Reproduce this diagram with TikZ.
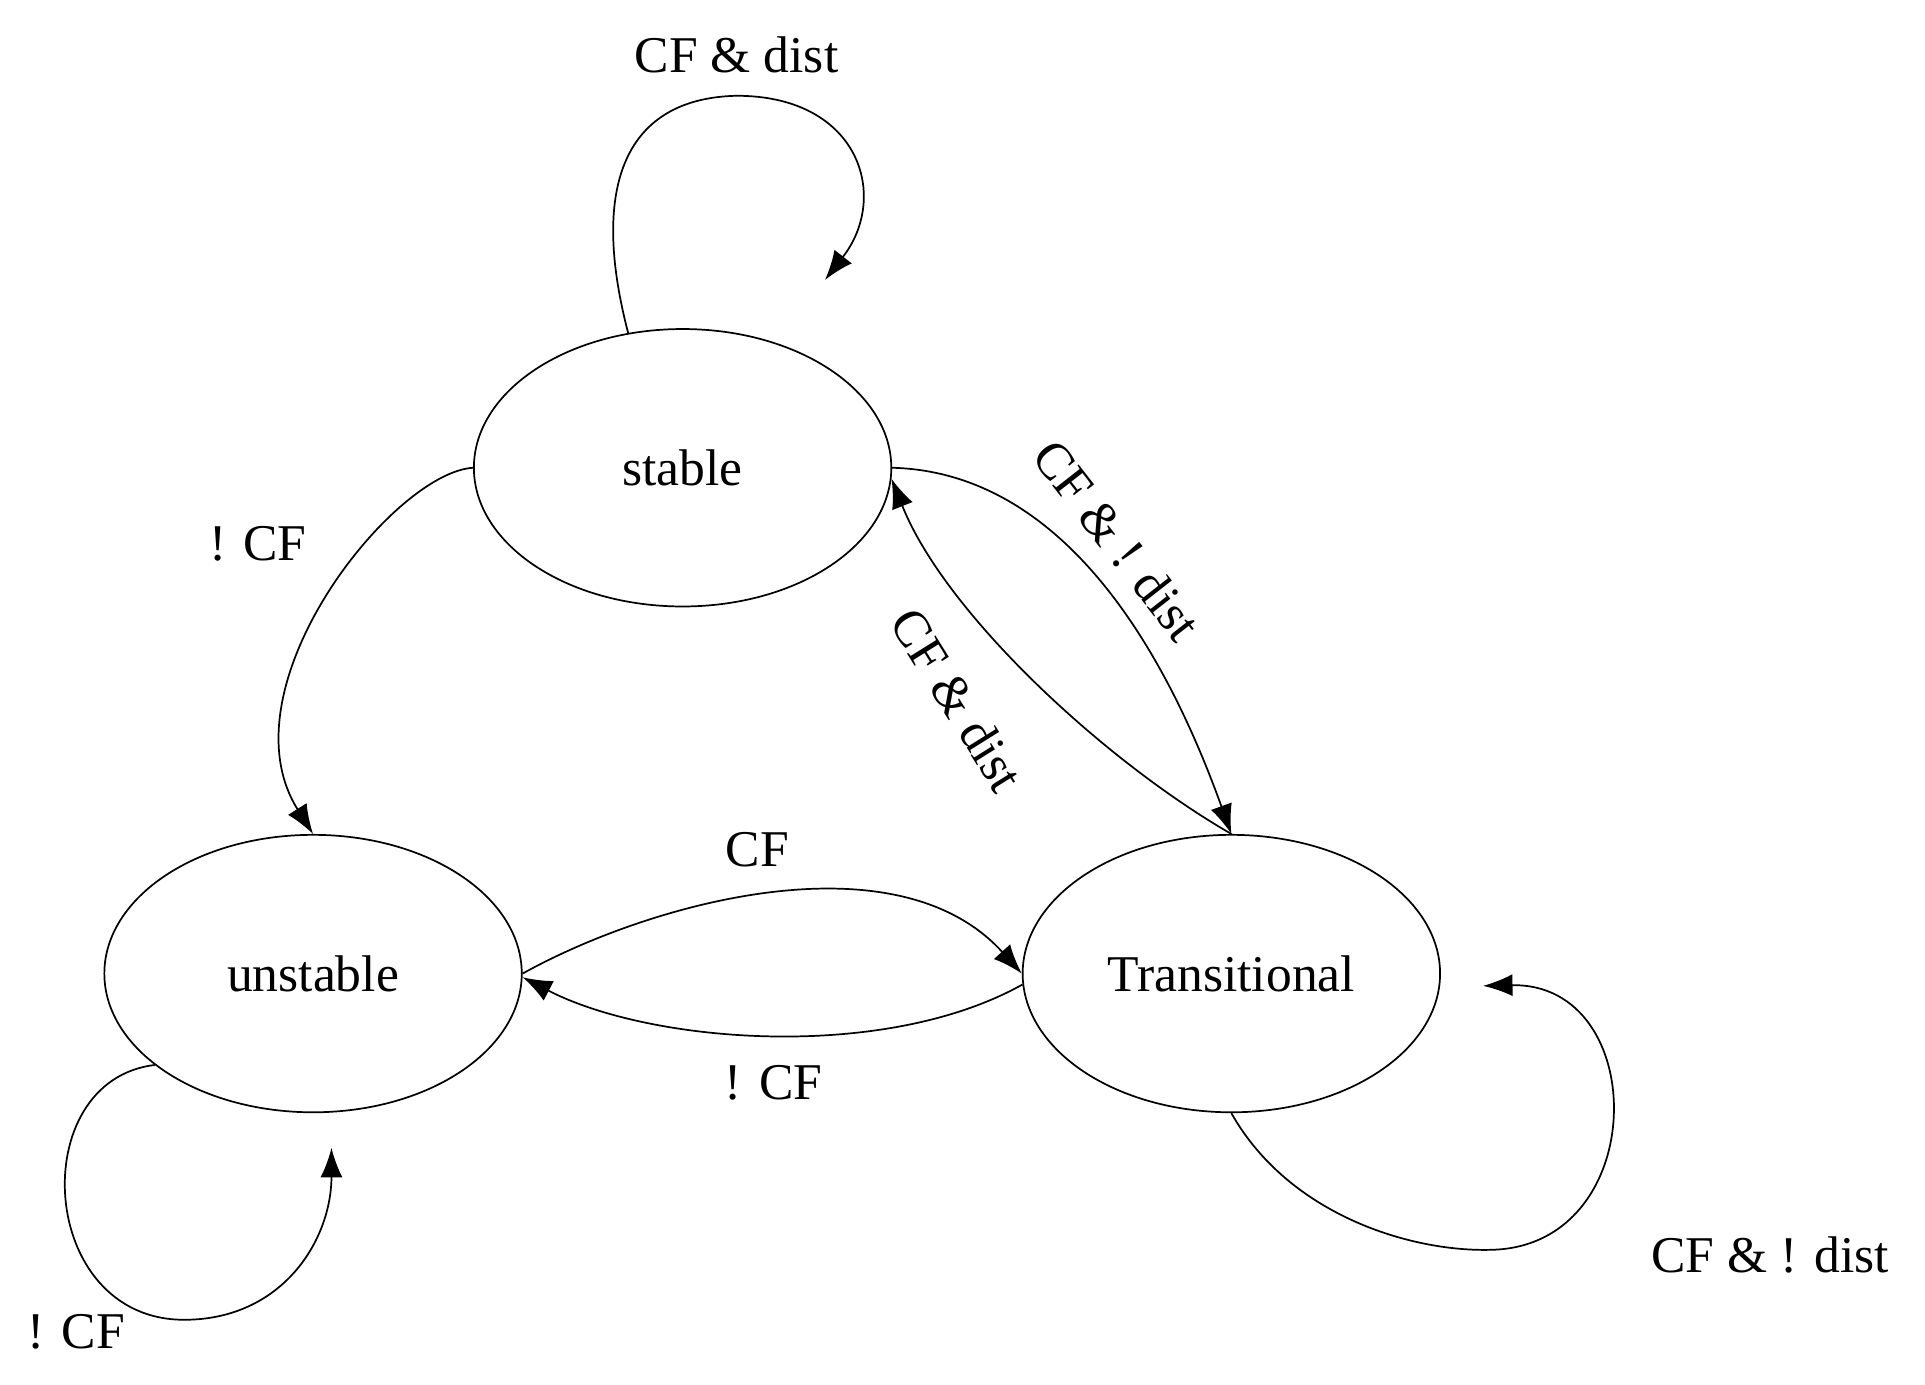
\documentclass[tikz,border=0pt]{standalone}
\usepackage{fontspec}
\setmainfont{Liberation Serif}
\usetikzlibrary{shapes.geometric,arrows.meta}
\begin{document}
\begin{tikzpicture}[x=1pt,y=-1pt,
  state/.style={draw,ellipse,line width=1.4pt,minimum width=340pt,minimum height=226pt,inner sep=0pt,font=\fontsize{42}{48}\selectfont},
  lbl/.style={font=\fontsize{42}{48}\selectfont,inner sep=0pt},
  tr/.style={line width=1.4pt,-{Latex[length=24pt,width=18pt]}}]
\useasboundingbox (0,0) rectangle (1568,1128);
\node[state] (s) at (556,381) {stable};
\node[state] (u) at (255,793) {unstable};
\node[state] (t) at (1003,793) {Transitional};
\coordinate (sl) at (672,228);
\coordinate (ul) at (270,935);
\coordinate (tl) at (1208,803);
% stable loop
\draw[tr] (s.112) .. controls (480,150) and (510,80) .. (600,78) .. controls (700,78) and (725,160) .. (sl);
\node[lbl] (l1) at (600,45) {CF \& dist};
% stable -> unstable
\draw[tr] (s.180) .. controls (320,385) and (180,560) .. (u.90);
\node[lbl] (l2) at (210,443) {! CF};
% stable -> transitional
\draw[tr] (s.0) .. controls (880,385) and (960,560) .. (t.90);
\node[lbl,rotate=-52] (l3) at (910,440) {CF \& ! dist};
% transitional -> stable
\draw[tr] (t.90) .. controls (900,620) and (770,500) .. (s.-3);
\node[lbl,rotate=-58] (l4) at (780,570) {CF \& dist};
% unstable -> transitional
\draw[tr] (u.0) .. controls (530,735) and (730,680) .. (t.180);
\node[lbl] (l5) at (617,692) {CF};
% transitional -> unstable
\draw[tr] (t.183) .. controls (720,865) and (530,850) .. (u.-1);
\node[lbl] (l6) at (630,882) {! CF};
% unstable loop
\draw[tr] (u.-150) .. controls (20,880) and (30,1075) .. (150,1075) .. controls (230,1075) and (270,1010) .. (ul);
\node[lbl] (l7) at (62,1085) {! CF};
% transitional loop
\draw[tr] (t.-90) .. controls (1050,990) and (1150,1020) .. (1215,1018) .. controls (1345,1015) and (1345,800) .. (tl);
\node[lbl] (l8) at (1442,1022) {CF \& ! dist};
\end{tikzpicture}
\end{document}
